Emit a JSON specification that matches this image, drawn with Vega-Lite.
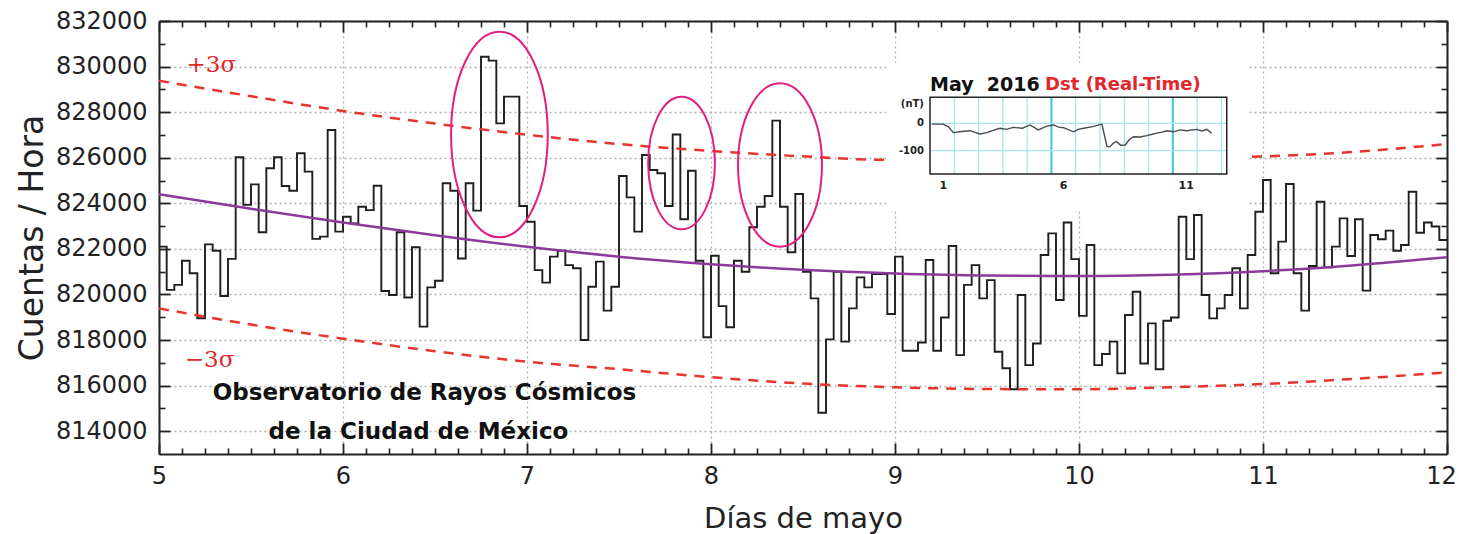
{
"$schema": "https://vega.github.io/schema/vega-lite/v6.json",
"width": 1288,
"height": 433,
"autosize": {"type": "none"},
"padding": {"left": 159, "top": 21, "right": 12, "bottom": 80},
"background": "white",
"config": {"view": {"stroke": null}, "axis": {"labelFont": "DejaVu Sans", "titleFont": "DejaVu Sans"}},
"datasets": {
"counts": [
{"d":5,"c":822100},{"d":5.0417,"c":820200},{"d":5.0833,"c":820420},{"d":5.125,"c":821480},{"d":5.1667,"c":820930},{"d":5.2083,"c":818960},{"d":5.25,"c":822200},{"d":5.2917,"c":821920},{"d":5.3333,"c":819930},{"d":5.375,"c":821560},{"d":5.4167,"c":826020},{"d":5.4583,"c":823930},{"d":5.5,"c":824830},{"d":5.5417,"c":822730},{"d":5.5833,"c":825540},{"d":5.625,"c":826020},{"d":5.6667,"c":824760},{"d":5.7083,"c":824550},{"d":5.75,"c":826200},{"d":5.7917,"c":825390},{"d":5.8333,"c":822440},{"d":5.875,"c":822540},{"d":5.9167,"c":827220},{"d":5.9583,"c":822760},
{"d":6,"c":823410},{"d":6.0417,"c":823120},{"d":6.0833,"c":823850},{"d":6.125,"c":823700},{"d":6.1667,"c":824770},{"d":6.2083,"c":820150},{"d":6.25,"c":819980},{"d":6.2917,"c":822730},{"d":6.3333,"c":819870},{"d":6.375,"c":822070},{"d":6.4167,"c":818590},{"d":6.4583,"c":820310},{"d":6.5,"c":820600},{"d":6.5417,"c":824880},{"d":6.5833,"c":824550},{"d":6.625,"c":821580},{"d":6.6667,"c":824880},{"d":6.7083,"c":823680},{"d":6.75,"c":830430},{"d":6.7917,"c":830260},{"d":6.8333,"c":827510},{"d":6.875,"c":828680},{"d":6.9167,"c":828680},{"d":6.9583,"c":823880},
{"d":7,"c":823190},{"d":7.0417,"c":821070},{"d":7.0833,"c":820520},{"d":7.125,"c":821660},{"d":7.1667,"c":821920},{"d":7.2083,"c":821290},{"d":7.25,"c":821150},{"d":7.2917,"c":818000},{"d":7.3333,"c":820340},{"d":7.375,"c":821440},{"d":7.4167,"c":819290},{"d":7.4583,"c":820340},{"d":7.5,"c":825200},{"d":7.5417,"c":824260},{"d":7.5833,"c":822760},{"d":7.625,"c":826120},{"d":7.6667,"c":825460},{"d":7.7083,"c":825320},{"d":7.75,"c":823880},{"d":7.7917,"c":827020},{"d":7.8333,"c":823300},{"d":7.875,"c":825430},{"d":7.9167,"c":821480},{"d":7.9583,"c":818120},
{"d":8,"c":821700},{"d":8.0417,"c":819490},{"d":8.0833,"c":818560},{"d":8.125,"c":821480},{"d":8.1667,"c":821000},{"d":8.2083,"c":822950},{"d":8.25,"c":823850},{"d":8.2917,"c":824320},{"d":8.3333,"c":827630},{"d":8.375,"c":823850},{"d":8.4167,"c":821850},{"d":8.4583,"c":824410},{"d":8.5,"c":821000},{"d":8.5417,"c":819830},{"d":8.5833,"c":814810},{"d":8.625,"c":818030},{"d":8.6667,"c":821000},{"d":8.7083,"c":817930},{"d":8.75,"c":819390},{"d":8.7917,"c":820750},{"d":8.8333,"c":820310},{"d":8.875,"c":820900},{"d":8.9167,"c":820900},{"d":8.9583,"c":819140},
{"d":9,"c":821660},{"d":9.0417,"c":817530},{"d":9.0833,"c":817530},{"d":9.125,"c":817890},{"d":9.1667,"c":821510},{"d":9.2083,"c":817530},{"d":9.25,"c":818990},{"d":9.2917,"c":822130},{"d":9.3333,"c":817340},{"d":9.375,"c":820420},{"d":9.4167,"c":821290},{"d":9.4583,"c":819830},{"d":9.5,"c":820630},{"d":9.5417,"c":817490},{"d":9.5833,"c":816760},{"d":9.625,"c":815840},{"d":9.6667,"c":819980},{"d":9.7083,"c":816900},{"d":9.75,"c":817850},{"d":9.7917,"c":821730},{"d":9.8333,"c":822680},{"d":9.875,"c":819760},{"d":9.9167,"c":823160},{"d":9.9583,"c":821550},
{"d":10,"c":819060},{"d":10.0417,"c":822170},{"d":10.0833,"c":816900},{"d":10.125,"c":817390},{"d":10.1667,"c":817930},{"d":10.2083,"c":816540},{"d":10.25,"c":819100},{"d":10.2917,"c":820120},{"d":10.3333,"c":816970},{"d":10.375,"c":818730},{"d":10.4167,"c":816720},{"d":10.4583,"c":818850},{"d":10.5,"c":818990},{"d":10.5417,"c":823410},{"d":10.5833,"c":821550},{"d":10.625,"c":823490},{"d":10.6667,"c":819980},{"d":10.7083,"c":818950},{"d":10.75,"c":819390},{"d":10.7917,"c":819980},{"d":10.8333,"c":821150},{"d":10.875,"c":819390},{"d":10.9167,"c":821730},{"d":10.9583,"c":823630},
{"d":11,"c":825020},{"d":11.0417,"c":820930},{"d":11.0833,"c":822320},{"d":11.125,"c":824850},{"d":11.1667,"c":820930},{"d":11.2083,"c":819290},{"d":11.25,"c":821250},{"d":11.2917,"c":824070},{"d":11.3333,"c":821190},{"d":11.375,"c":822100},{"d":11.4167,"c":823340},{"d":11.4583,"c":821690},{"d":11.5,"c":823300},{"d":11.5417,"c":820170},{"d":11.5833,"c":822610},{"d":11.625,"c":822420},{"d":11.6667,"c":822800},{"d":11.7083,"c":821920},{"d":11.75,"c":822170},{"d":11.7917,"c":824510},{"d":11.8333,"c":822710},{"d":11.875,"c":823160},{"d":11.9167,"c":822980},{"d":11.9583,"c":822390},
{"d":12,"c":822390}
],
"fit": [
{"d":5,"c":824400},{"d":5.5,"c":823760},{"d":6,"c":823160},{"d":6.5,"c":822600},{"d":7,"c":822090},{"d":7.5,"c":821660},{"d":8,"c":821330},{"d":8.5,"c":821080},{"d":9,"c":820920},{"d":9.5,"c":820830},{"d":10,"c":820810},{"d":10.5,"c":820870},{"d":11,"c":821020},{"d":11.5,"c":821280},{"d":12,"c":821630}
],
"upper": [
{"d":5,"c":829380},{"d":5.5,"c":828700},{"d":6,"c":828050},{"d":6.5,"c":827500},{"d":7,"c":827010},{"d":7.5,"c":826600},{"d":8,"c":826300},{"d":8.5,"c":826060},{"d":8.93,"c":825910},{"d":10.9,"c":826040},{"d":11,"c":826060},{"d":11.5,"c":826260},{"d":12,"c":826600}
],
"lower": [
{"d":5,"c":819390},{"d":5.5,"c":818680},{"d":6,"c":818060},{"d":6.5,"c":817510},{"d":7,"c":817050},{"d":7.5,"c":816720},{"d":8,"c":816370},{"d":8.5,"c":816090},{"d":9,"c":815930},{"d":9.5,"c":815850},{"d":10,"c":815840},{"d":10.5,"c":815930},{"d":11,"c":816070},{"d":11.5,"c":816300},{"d":12,"c":816580}
],
"sigmas": [
{"d":5.15,"c":830070,"s":"+3σ"},{"d":5.14,"c":817125,"s":"−3σ"}
],
"obs": [
{"d":6.443,"c":815677,"s":"Observatorio de Rayos Cósmicos"},{"d":6.41,"c":813966,"s":"de la Ciudad de México"}
],
"dst": [
{"t":1.07,"v":-3},{"t":1.54,"v":-3},{"t":1.75,"v":-12},{"t":1.96,"v":-34},{"t":2.3,"v":-30},{"t":2.65,"v":-27},{"t":2.85,"v":-33},{"t":3.06,"v":-39},{"t":3.34,"v":-34},{"t":3.6,"v":-26},{"t":3.88,"v":-18},{"t":4.15,"v":-22},{"t":4.43,"v":-15},{"t":4.8,"v":-18},{"t":5.12,"v":-6},{"t":5.46,"v":-24},{"t":5.81,"v":-10},{"t":6.08,"v":-6},{"t":6.3,"v":-14},{"t":6.5,"v":-16},{"t":6.91,"v":-31},{"t":7.1,"v":-22},{"t":7.32,"v":-18},{"t":7.7,"v":-12},{"t":8.08,"v":-3},{"t":8.29,"v":-85},{"t":8.42,"v":-85},{"t":8.55,"v":-72},{"t":8.69,"v":-67},{"t":8.85,"v":-80},{"t":9.04,"v":-79},{"t":9.2,"v":-60},{"t":9.38,"v":-49},{"t":9.65,"v":-50},{"t":9.93,"v":-45},{"t":10.15,"v":-40},{"t":10.34,"v":-36},{"t":10.55,"v":-32},{"t":10.75,"v":-27},{"t":11.03,"v":-31},{"t":11.3,"v":-24},{"t":11.58,"v":-27},{"t":11.8,"v":-24},{"t":11.99,"v":-22},{"t":12.2,"v":-28},{"t":12.4,"v":-22},{"t":12.6,"v":-36}
]
},
"layer": [
{
"layer": [
{
"data": {"name": "counts"},
"mark": {"type": "line", "interpolate": "step-after", "color": "#1e1e1e", "strokeWidth": 1.9},
"encoding": {
"x": {"field": "d", "type": "quantitative", "scale": {"domain": [5, 12], "nice": false, "zero": false},
"axis": {"orient": "bottom", "values": [5,6,7,8,9,10,11,12], "ticks": false, "labelFontSize": 24, "labelColor": "#222", "labelPadding": 10, "labelFlush": false, "labelOverlap": false, "labelOffset": {"condition": {"test": "datum.value == 12", "value": -6}, "value": 0}, "domain": true, "domainColor": "#222", "domainWidth": 2, "grid": true, "gridColor": "#b0b0b0", "gridDash": [2,3], "gridWidth": 1.3, "title": "Días de mayo", "titleFontSize": 29, "titleFontWeight": "normal", "titleColor": "#222", "titlePadding": 16}},
"y": {"field": "c", "type": "quantitative", "scale": {"domain": [813000, 832000], "nice": false, "zero": false},
"axis": {"orient": "left", "values": [814000,816000,818000,820000,822000,824000,826000,828000,830000,832000], "format": "d", "ticks": false, "labelFontSize": 24, "labelColor": "#222", "labelPadding": 12, "labelFlush": false, "labelOverlap": false, "domain": true, "domainColor": "#222", "domainWidth": 2, "grid": true, "gridColor": "#b0b0b0", "gridDash": [2,3], "gridWidth": 1.3, "title": "Cuentas / Hora", "titleFontSize": 33, "titleFontWeight": "normal", "titleColor": "#222", "titlePadding": 6}}
}
},
{
"data": {"name": "fit"},
"mark": {"type": "line", "interpolate": "monotone", "color": "#8b3a9c", "strokeWidth": 2.5},
"encoding": {
"x": {"field": "d", "type": "quantitative", "scale": {"domain": [5, 12], "nice": false, "zero": false},
"axis": {"orient": "bottom", "values": [5.125,5.25,5.375,5.5,5.625,5.75,5.875,6.125,6.25,6.375,6.5,6.625,6.75,6.875,7.125,7.25,7.375,7.5,7.625,7.75,7.875,8.125,8.25,8.375,8.5,8.625,8.75,8.875,9.125,9.25,9.375,9.5,9.625,9.75,9.875,10.125,10.25,10.375,10.5,10.625,10.75,10.875,11.125,11.25,11.375,11.5,11.625,11.75,11.875], "offset": -6, "tickSize": 6, "tickWidth": 1.6, "tickColor": "#222", "labels": false, "domain": false, "grid": false, "title": null}},
"y": {"field": "c", "type": "quantitative", "scale": {"domain": [813000, 832000], "nice": false, "zero": false},
"axis": {"orient": "left", "values": [815000,817000,819000,821000,823000,825000,827000,829000,831000], "offset": -6, "tickSize": 6, "tickWidth": 1.6, "tickColor": "#222", "labels": false, "domain": false, "grid": false, "title": null}}
}
},
{
"data": {"name": "upper"},
"mark": {"type": "line", "interpolate": "monotone", "color": "#e8342c", "strokeWidth": 2.5, "strokeDash": [10, 8]},
"encoding": {
"x": {"field": "d", "type": "quantitative", "scale": {"domain": [5, 12], "nice": false, "zero": false},
"axis": {"orient": "bottom", "values": [5,6,7,8,9,10,11,12], "offset": -11, "tickSize": 11, "tickWidth": 1.8, "tickColor": "#222", "labels": false, "domain": false, "grid": false, "title": null}},
"y": {"field": "c", "type": "quantitative", "scale": {"domain": [813000, 832000], "nice": false, "zero": false},
"axis": {"orient": "left", "values": [814000,816000,818000,820000,822000,824000,826000,828000,830000,832000], "offset": -11, "tickSize": 11, "tickWidth": 1.8, "tickColor": "#222", "labels": false, "domain": false, "grid": false, "title": null}}
}
},
{
"data": {"name": "lower"},
"mark": {"type": "line", "interpolate": "monotone", "color": "#e8342c", "strokeWidth": 2.5, "strokeDash": [10, 8]},
"encoding": {
"x": {"field": "d", "type": "quantitative", "scale": {"domain": [5, 12], "nice": false, "zero": false},
"axis": {"orient": "top", "values": [5.125,5.25,5.375,5.5,5.625,5.75,5.875,6.125,6.25,6.375,6.5,6.625,6.75,6.875,7.125,7.25,7.375,7.5,7.625,7.75,7.875,8.125,8.25,8.375,8.5,8.625,8.75,8.875,9.125,9.25,9.375,9.5,9.625,9.75,9.875,10.125,10.25,10.375,10.5,10.625,10.75,10.875,11.125,11.25,11.375,11.5,11.625,11.75,11.875], "offset": -6, "tickSize": 6, "tickWidth": 1.6, "tickColor": "#222", "labels": false, "domain": false, "grid": false, "title": null}},
"y": {"field": "c", "type": "quantitative", "scale": {"domain": [813000, 832000], "nice": false, "zero": false},
"axis": {"orient": "right", "values": [815000,817000,819000,821000,823000,825000,827000,829000,831000], "offset": -6, "tickSize": 6, "tickWidth": 1.6, "tickColor": "#222", "labels": false, "domain": false, "grid": false, "title": null}}
}
},
{
"data": {"values": [{"d":6.85,"c":827020}]},
"mark": {"type": "point", "filled": false, "color": "#e0207f", "strokeWidth": 2, "opacity": 1, "size": 42313, "shape": "M-0.47,0A0.47,1,0,1,1,0.47,0A0.47,1,0,1,1,-0.47,0Z"},
"encoding": {
"x": {"field": "d", "type": "quantitative", "scale": {"domain": [5, 12], "nice": false, "zero": false},
"axis": {"orient": "top", "values": [5,6,7,8,9,10,11,12], "offset": -11, "tickSize": 11, "tickWidth": 1.8, "tickColor": "#222", "labels": false, "domain": false, "grid": false, "title": null}},
"y": {"field": "c", "type": "quantitative", "scale": {"domain": [813000, 832000], "nice": false, "zero": false},
"axis": {"orient": "right", "values": [814000,816000,818000,820000,822000,824000,826000,828000,830000,832000], "offset": -11, "tickSize": 11, "tickWidth": 1.8, "tickColor": "#222", "labels": false, "domain": false, "grid": false, "title": null}}
}
},
{
"data": {"values": [{"d":7.84,"c":825769}]},
"mark": {"type": "point", "filled": false, "color": "#e0207f", "strokeWidth": 2, "opacity": 1, "size": 17609, "shape": "M-0.503,0A0.503,1,0,1,1,0.503,0A0.503,1,0,1,1,-0.503,0Z"},
"encoding": {
"x": {"field": "d", "type": "quantitative", "scale": {"domain": [5, 12], "nice": false, "zero": false}, "axis": null},
"y": {"field": "c", "type": "quantitative", "scale": {"domain": [813000, 832000], "nice": false, "zero": false}, "axis": null}
}
},
{
"data": {"values": [{"d":8.375,"c":825681}]},
"mark": {"type": "point", "filled": false, "color": "#e0207f", "strokeWidth": 2, "opacity": 1, "size": 26667, "shape": "M-0.514,0A0.514,1,0,1,1,0.514,0A0.514,1,0,1,1,-0.514,0Z"},
"encoding": {
"x": {"field": "d", "type": "quantitative", "scale": {"domain": [5, 12], "nice": false, "zero": false}, "axis": null},
"y": {"field": "c", "type": "quantitative", "scale": {"domain": [813000, 832000], "nice": false, "zero": false}, "axis": null}
}
},
{
"data": {"name": "sigmas"},
"mark": {"type": "text", "align": "left", "baseline": "middle", "font": "DejaVu Serif", "fontSize": 23, "color": "#e3262b"},
"encoding": {
"x": {"field": "d", "type": "quantitative", "scale": {"domain": [5, 12], "nice": false, "zero": false},
"axis": {"orient": "top", "ticks": false, "labels": false, "domain": true, "domainColor": "#222", "domainWidth": 2, "grid": false, "title": null}},
"y": {"field": "c", "type": "quantitative", "scale": {"domain": [813000, 832000], "nice": false, "zero": false},
"axis": {"orient": "right", "ticks": false, "labels": false, "domain": true, "domainColor": "#222", "domainWidth": 2, "grid": false, "title": null}},
"text": {"field": "s"}
}
},
{
"data": {"name": "obs"},
"mark": {"type": "text", "align": "center", "baseline": "middle", "font": "DejaVu Sans", "fontWeight": "bold", "fontSize": 23, "color": "#111"},
"encoding": {
"x": {"field": "d", "type": "quantitative", "scale": {"domain": [5, 12], "nice": false, "zero": false}, "axis": null},
"y": {"field": "c", "type": "quantitative", "scale": {"domain": [813000, 832000], "nice": false, "zero": false}, "axis": null},
"text": {"field": "s"}
}
}
],
"resolve": {"axis": {"x": "independent", "y": "independent"}}
},
{
"layer": [
{
"data": {"values": [{"x1": -0.8, "x2": 14.1, "y1": -316, "y2": 220}]},
"mark": {"type": "rect", "fill": "white", "stroke": null},
"encoding": {
"x": {"field": "x1", "type": "quantitative", "scale": {"domain": [-30.75, 22.29], "nice": false, "zero": false}, "axis": null},
"x2": {"field": "x2"},
"y": {"field": "y1", "type": "quantitative", "scale": {"domain": [-1206.9, 373.4], "nice": false, "zero": false}, "axis": null},
"y2": {"field": "y2"}
}
},
{
"data": {"values": [{"g":2,"lo":-185,"hi":95},{"g":3,"lo":-185,"hi":95},{"g":4,"lo":-185,"hi":95},{"g":5,"lo":-185,"hi":95},{"g":7,"lo":-185,"hi":95},{"g":8,"lo":-185,"hi":95},{"g":9,"lo":-185,"hi":95},{"g":10,"lo":-185,"hi":95},{"g":12,"lo":-185,"hi":95},{"g":13,"lo":-185,"hi":95}]},
"mark": {"type": "rule", "color": "#a6e6ee", "strokeWidth": 1.2},
"encoding": {
"x": {"field": "g", "type": "quantitative", "scale": {"domain": [-30.75, 22.29], "nice": false, "zero": false}, "axis": null},
"y": {"field": "lo", "type": "quantitative", "scale": {"domain": [-1206.9, 373.4], "nice": false, "zero": false}, "axis": null},
"y2": {"field": "hi"}
}
},
{
"data": {"values": [{"g":6,"lo":-185,"hi":95},{"g":11,"lo":-185,"hi":95}]},
"mark": {"type": "rule", "color": "#3cc6da", "strokeWidth": 2},
"encoding": {
"x": {"field": "g", "type": "quantitative", "scale": {"domain": [-30.75, 22.29], "nice": false, "zero": false}, "axis": null},
"y": {"field": "lo", "type": "quantitative", "scale": {"domain": [-1206.9, 373.4], "nice": false, "zero": false}, "axis": null},
"y2": {"field": "hi"}
}
},
{
"data": {"values": [{"v":0,"a":1,"b":13.22},{"v":-100,"a":1,"b":13.22}]},
"mark": {"type": "rule", "color": "#a6e6ee", "strokeWidth": 1.2},
"encoding": {
"x": {"field": "a", "type": "quantitative", "scale": {"domain": [-30.75, 22.29], "nice": false, "zero": false}, "axis": null},
"x2": {"field": "b"},
"y": {"field": "v", "type": "quantitative", "scale": {"domain": [-1206.9, 373.4], "nice": false, "zero": false}, "axis": null}
}
},
{
"data": {"values": [{"x1": 1, "x2": 13.22, "y1": -185, "y2": 95}]},
"mark": {"type": "rect", "fillOpacity": 0, "stroke": "#222", "strokeWidth": 1.5},
"encoding": {
"x": {"field": "x1", "type": "quantitative", "scale": {"domain": [-30.75, 22.29], "nice": false, "zero": false}, "axis": null},
"x2": {"field": "x2"},
"y": {"field": "y1", "type": "quantitative", "scale": {"domain": [-1206.9, 373.4], "nice": false, "zero": false}, "axis": null},
"y2": {"field": "y2"}
}
},
{
"data": {"name": "dst"},
"mark": {"type": "line", "color": "#4a4a4a", "strokeWidth": 1.4},
"encoding": {
"x": {"field": "t", "type": "quantitative", "scale": {"domain": [-30.75, 22.29], "nice": false, "zero": false}, "axis": null},
"y": {"field": "v", "type": "quantitative", "scale": {"domain": [-1206.9, 373.4], "nice": false, "zero": false}, "axis": null}
}
},
{
"data": {"values": [{"t":0.75,"v":70,"s":"(nT)"},{"t":0.75,"v":0,"s":"0"},{"t":0.75,"v":-100,"s":"-100"}]},
"mark": {"type": "text", "align": "right", "baseline": "middle", "font": "DejaVu Sans", "fontWeight": "bold", "fontSize": 10, "color": "#222"},
"encoding": {
"x": {"field": "t", "type": "quantitative", "scale": {"domain": [-30.75, 22.29], "nice": false, "zero": false}, "axis": null},
"y": {"field": "v", "type": "quantitative", "scale": {"domain": [-1206.9, 373.4], "nice": false, "zero": false}, "axis": null},
"text": {"field": "s"}
}
},
{
"data": {"values": [{"t":1.55,"v":-229,"s":"1"},{"t":6.5,"v":-229,"s":"6"},{"t":11.55,"v":-229,"s":"11"}]},
"mark": {"type": "text", "align": "center", "baseline": "middle", "font": "DejaVu Sans", "fontWeight": "bold", "fontSize": 11, "color": "#222"},
"encoding": {
"x": {"field": "t", "type": "quantitative", "scale": {"domain": [-30.75, 22.29], "nice": false, "zero": false}, "axis": null},
"y": {"field": "v", "type": "quantitative", "scale": {"domain": [-1206.9, 373.4], "nice": false, "zero": false}, "axis": null},
"text": {"field": "s"}
}
},
{
"data": {"values": [{"t":1.0,"v":140,"s":"May\u00a0\u00a02016"}]},
"mark": {"type": "text", "align": "left", "baseline": "middle", "font": "DejaVu Sans", "fontWeight": "bold", "fontSize": 19, "color": "#111"},
"encoding": {
"x": {"field": "t", "type": "quantitative", "scale": {"domain": [-30.75, 22.29], "nice": false, "zero": false}, "axis": null},
"y": {"field": "v", "type": "quantitative", "scale": {"domain": [-1206.9, 373.4], "nice": false, "zero": false}, "axis": null},
"text": {"field": "s"}
}
},
{
"data": {"values": [{"t":5.74,"v":140,"s":"Dst (Real-Time)"}]},
"mark": {"type": "text", "align": "left", "baseline": "middle", "font": "DejaVu Sans", "fontWeight": "bold", "fontSize": 18, "color": "#e3262b"},
"encoding": {
"x": {"field": "t", "type": "quantitative", "scale": {"domain": [-30.75, 22.29], "nice": false, "zero": false}, "axis": null},
"y": {"field": "v", "type": "quantitative", "scale": {"domain": [-1206.9, 373.4], "nice": false, "zero": false}, "axis": null},
"text": {"field": "s"}
}
}
]
}
],
"resolve": {"scale": {"x": "independent", "y": "independent"}}
}
